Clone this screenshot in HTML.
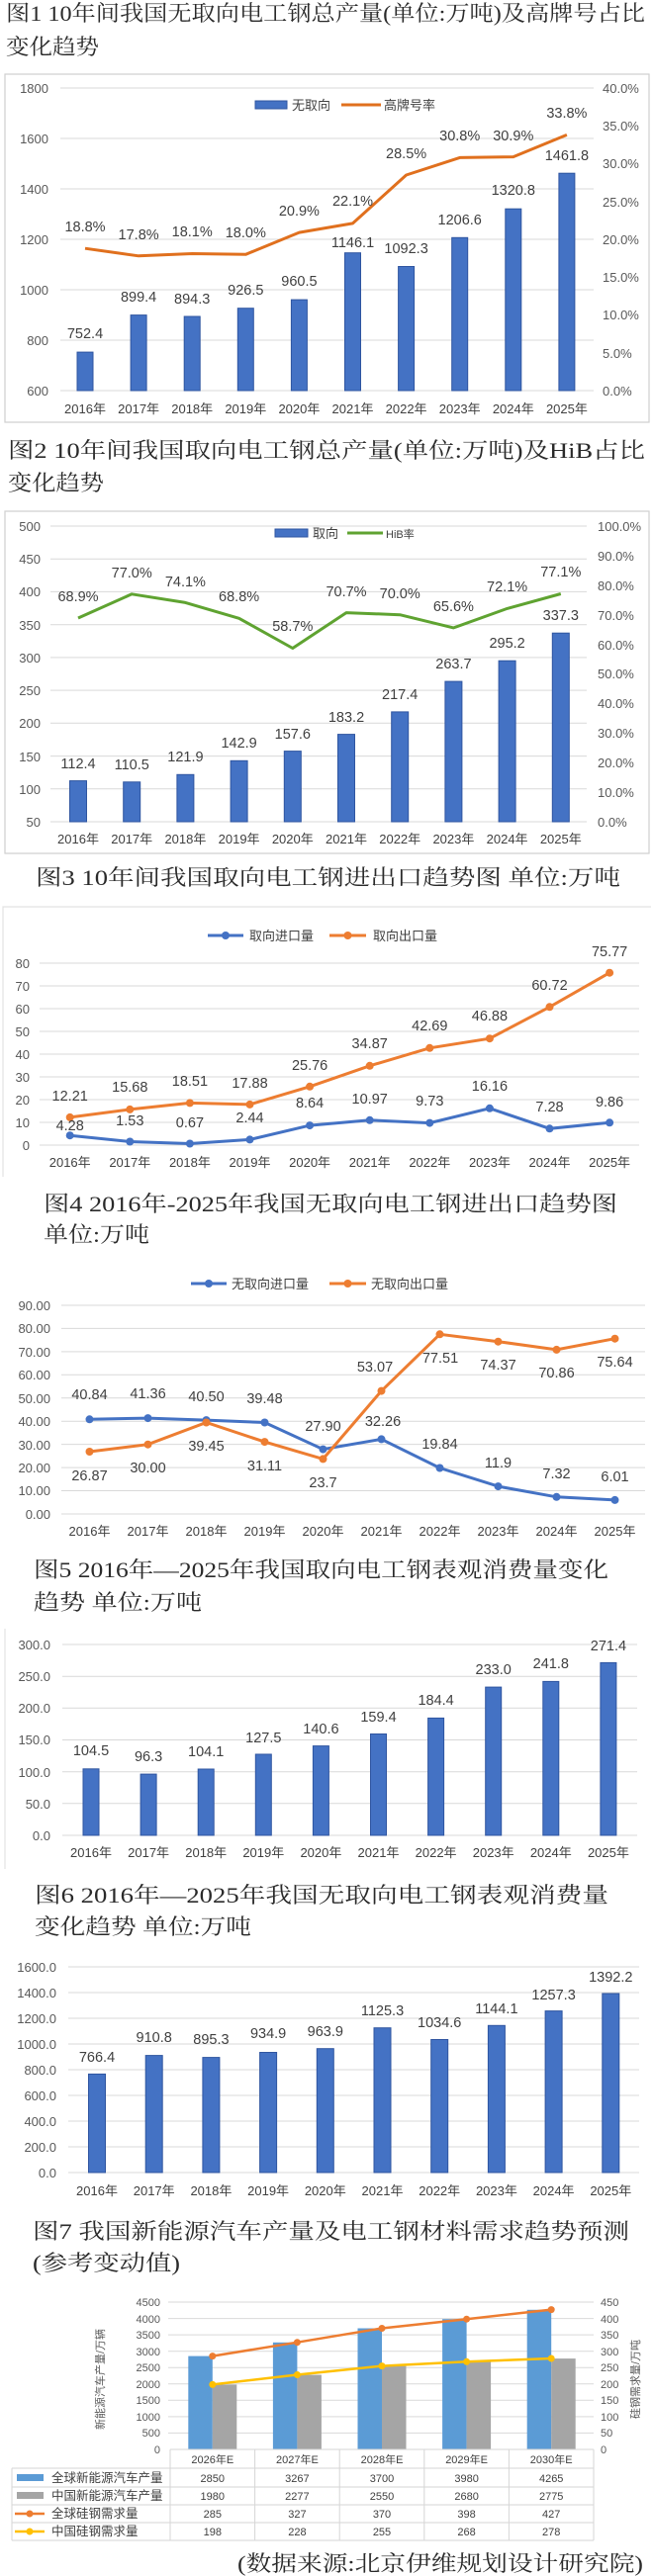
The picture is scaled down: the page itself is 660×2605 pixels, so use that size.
<!DOCTYPE html>
<html><head><meta charset="utf-8"><style>
html,body{margin:0;padding:0;background:#fff;}
svg{display:block;}
.t{font-family:"Liberation Serif","Noto Serif CJK SC",serif;font-size:22px;fill:#2a2a2a;}
.a{font-family:"Liberation Sans","Noto Sans CJK SC",sans-serif;font-size:13px;fill:#595959;}
.d{font-family:"Liberation Sans","Noto Sans CJK SC",sans-serif;font-size:14.5px;fill:#404040;text-anchor:middle;}
.x{font-family:"Liberation Sans","Noto Sans CJK SC",sans-serif;font-size:13px;fill:#404040;text-anchor:middle;}
.g{stroke:#d9d9d9;stroke-width:1;}
.b{fill:#4472c4;stroke:#2f55a0;stroke-width:1;}
.r{text-anchor:end;}
</style></head><body>
<svg width="660" height="2605" viewBox="0 0 660 2605" xmlns="http://www.w3.org/2000/svg">
<rect width="660" height="2605" fill="#fff"/>

<!-- ===== Titles ===== -->
<text class="t" x="6" y="21" textLength="646" lengthAdjust="spacingAndGlyphs">图1 10年间我国无取向电工钢总产量(单位:万吨)及高牌号占比</text>
<text class="t" x="6" y="55" textLength="94" lengthAdjust="spacingAndGlyphs">变化趋势</text>
<text class="t" x="8" y="463" textLength="644" lengthAdjust="spacingAndGlyphs">图2 10年间我国取向电工钢总产量(单位:万吨)及HiB占比</text>
<text class="t" x="8" y="496" textLength="97" lengthAdjust="spacingAndGlyphs">变化趋势</text>
<text class="t" x="36" y="895" textLength="591" lengthAdjust="spacingAndGlyphs">图3 10年间我国取向电工钢进出口趋势图 单位:万吨</text>
<text class="t" x="44" y="1225" textLength="580" lengthAdjust="spacingAndGlyphs">图4 2016年-2025年我国无取向电工钢进出口趋势图</text>
<text class="t" x="44" y="1256" textLength="107" lengthAdjust="spacingAndGlyphs">单位:万吨</text>
<text class="t" x="34" y="1595" textLength="581" lengthAdjust="spacingAndGlyphs">图5 2016年—2025年我国取向电工钢表观消费量变化</text>
<text class="t" x="34" y="1628" textLength="170" lengthAdjust="spacingAndGlyphs">趋势 单位:万吨</text>
<text class="t" x="35" y="1924" textLength="580" lengthAdjust="spacingAndGlyphs">图6 2016年—2025年我国无取向电工钢表观消费量</text>
<text class="t" x="35" y="1956" textLength="219" lengthAdjust="spacingAndGlyphs">变化趋势 单位:万吨</text>
<text class="t" x="33" y="2264" textLength="603" lengthAdjust="spacingAndGlyphs">图7 我国新能源汽车产量及电工钢材料需求趋势预测</text>
<text class="t" x="33" y="2296" textLength="149" lengthAdjust="spacingAndGlyphs">(参考变动值)</text>
<text class="t" x="240" y="2600" textLength="410" lengthAdjust="spacingAndGlyphs">(数据来源:北京伊维规划设计研究院)</text>

<!-- ===== Chart 1 ===== -->
<rect x="5" y="75" width="651" height="352" fill="none" stroke="#cfcfcf" stroke-width="1.2"/>
<g class="g">
<line x1="61" x2="600" y1="89" y2="89"/><line x1="61" x2="600" y1="140" y2="140"/><line x1="61" x2="600" y1="191" y2="191"/><line x1="61" x2="600" y1="242" y2="242"/><line x1="61" x2="600" y1="293" y2="293"/><line x1="61" x2="600" y1="344" y2="344"/><line x1="61" x2="600" y1="395" y2="395"/>
</g>
<g class="a r">
<text x="49" y="94">1800</text><text x="49" y="145">1600</text><text x="49" y="196">1400</text><text x="49" y="247">1200</text><text x="49" y="298">1000</text><text x="49" y="349">800</text><text x="49" y="400">600</text>
</g>
<g class="a">
<text x="609" y="94">40.0%</text><text x="609" y="132">35.0%</text><text x="609" y="170">30.0%</text><text x="609" y="209">25.0%</text><text x="609" y="247">20.0%</text><text x="609" y="285">15.0%</text><text x="609" y="323">10.0%</text><text x="609" y="362">5.0%</text><text x="609" y="400">0.0%</text>
</g>
<g class="b">
<rect x="78" y="356.1" width="16" height="38.9"/><rect x="132.1" y="318.6" width="16" height="76.4"/><rect x="186.2" y="320" width="16" height="75"/><rect x="240.3" y="311.7" width="16" height="83.3"/><rect x="294.4" y="303.1" width="16" height="91.9"/><rect x="348.5" y="255.7" width="16" height="139.3"/><rect x="402.6" y="269.5" width="16" height="125.5"/><rect x="456.7" y="240.3" width="16" height="154.7"/><rect x="510.8" y="211.2" width="16" height="183.8"/><rect x="564.9" y="175.2" width="16" height="219.8"/>
</g>
<polyline fill="none" stroke="#e0701e" stroke-width="3" stroke-linejoin="round" points="86,251.2 140.1,258.8 194.2,256.5 248.3,257.3 302.4,235.1 356.5,225.9 410.6,177 464.7,159.4 518.8,158.6 572.9,136.4"/>
<g class="d">
<text x="86" y="342">752.4</text><text x="140.1" y="305">899.4</text><text x="194.2" y="307">894.3</text><text x="248.3" y="298">926.5</text><text x="302.4" y="289">960.5</text><text x="356.5" y="250">1146.1</text><text x="410.6" y="256">1092.3</text><text x="464.7" y="227">1206.6</text><text x="518.8" y="197">1320.8</text><text x="572.9" y="162">1461.8</text>
<text x="86" y="234">18.8%</text><text x="140.1" y="242">17.8%</text><text x="194.2" y="239">18.1%</text><text x="248.3" y="240">18.0%</text><text x="302.4" y="218">20.9%</text><text x="356.5" y="208">22.1%</text><text x="410.6" y="160">28.5%</text><text x="464.7" y="142">30.8%</text><text x="518.8" y="142">30.9%</text><text x="572.9" y="119">33.8%</text>
</g>
<g class="x">
<text x="86" y="418">2016年</text><text x="140.1" y="418">2017年</text><text x="194.2" y="418">2018年</text><text x="248.3" y="418">2019年</text><text x="302.4" y="418">2020年</text><text x="356.5" y="418">2021年</text><text x="410.6" y="418">2022年</text><text x="464.7" y="418">2023年</text><text x="518.8" y="418">2024年</text><text x="572.9" y="418">2025年</text>
</g>
<rect x="258" y="102" width="32" height="8" class="b"/>
<text class="a" x="295" y="111" style="fill:#404040">无取向</text>
<line x1="345" x2="385" y1="106" y2="106" stroke="#e0701e" stroke-width="3"/>
<text class="a" x="388" y="111" style="fill:#404040">高牌号率</text>

<!-- ===== Chart 2 ===== -->
<rect x="5" y="517" width="651" height="346" fill="none" stroke="#cfcfcf" stroke-width="1.2"/>
<g class="g">
<line x1="51" x2="593" y1="532" y2="532"/><line x1="51" x2="593" y1="565.2" y2="565.2"/><line x1="51" x2="593" y1="598.4" y2="598.4"/><line x1="51" x2="593" y1="631.7" y2="631.7"/><line x1="51" x2="593" y1="664.9" y2="664.9"/><line x1="51" x2="593" y1="698.1" y2="698.1"/><line x1="51" x2="593" y1="731.3" y2="731.3"/><line x1="51" x2="593" y1="764.6" y2="764.6"/><line x1="51" x2="593" y1="797.8" y2="797.8"/><line x1="51" x2="593" y1="831" y2="831"/>
</g>
<g class="a r">
<text x="41" y="537">500</text><text x="41" y="570">450</text><text x="41" y="603">400</text><text x="41" y="637">350</text><text x="41" y="670">300</text><text x="41" y="703">250</text><text x="41" y="736">200</text><text x="41" y="770">150</text><text x="41" y="803">100</text><text x="41" y="836">50</text>
</g>
<g class="a">
<text x="604" y="537">100.0%</text><text x="604" y="567">90.0%</text><text x="604" y="597">80.0%</text><text x="604" y="627">70.0%</text><text x="604" y="657">60.0%</text><text x="604" y="686">50.0%</text><text x="604" y="716">40.0%</text><text x="604" y="746">30.0%</text><text x="604" y="776">20.0%</text><text x="604" y="806">10.0%</text><text x="604" y="836">0.0%</text>
</g>
<g class="b">
<rect x="70.5" y="789.6" width="17" height="41.4"/><rect x="124.7" y="790.8" width="17" height="40.2"/><rect x="178.9" y="783.3" width="17" height="47.7"/><rect x="233.1" y="769.3" width="17" height="61.7"/><rect x="287.3" y="759.6" width="17" height="71.4"/><rect x="341.5" y="742.6" width="17" height="88.4"/><rect x="395.7" y="719.9" width="17" height="111.1"/><rect x="449.9" y="689.1" width="17" height="141.9"/><rect x="504.1" y="668.2" width="17" height="162.8"/><rect x="558.3" y="640.2" width="17" height="190.8"/>
</g>
<polyline fill="none" stroke="#5fa331" stroke-width="3" stroke-linejoin="round" points="79,625 133.2,600.8 187.4,609.4 241.6,625.3 295.8,655.5 350,619.6 404.2,621.7 458.4,634.9 512.6,615.4 566.8,600.5"/>
<g class="d">
<text x="79" y="777">112.4</text><text x="133.2" y="778">110.5</text><text x="187.4" y="770">121.9</text><text x="241.6" y="756">142.9</text><text x="295.8" y="747">157.6</text><text x="350" y="730">183.2</text><text x="404.2" y="707">217.4</text><text x="458.4" y="676">263.7</text><text x="512.6" y="655">295.2</text><text x="566.8" y="627">337.3</text>
<text x="79" y="608">68.9%</text><text x="133.2" y="584">77.0%</text><text x="187.4" y="593">74.1%</text><text x="241.6" y="608">68.8%</text><text x="295.8" y="638">58.7%</text><text x="350" y="603">70.7%</text><text x="404.2" y="605">70.0%</text><text x="458.4" y="618">65.6%</text><text x="512.6" y="598">72.1%</text><text x="566.8" y="583">77.1%</text>
</g>
<g class="x">
<text x="79" y="853">2016年</text><text x="133.2" y="853">2017年</text><text x="187.4" y="853">2018年</text><text x="241.6" y="853">2019年</text><text x="295.8" y="853">2020年</text><text x="350" y="853">2021年</text><text x="404.2" y="853">2022年</text><text x="458.4" y="853">2023年</text><text x="512.6" y="853">2024年</text><text x="566.8" y="853">2025年</text>
</g>
<rect x="278" y="535" width="33" height="8" class="b"/>
<text class="a" x="316" y="544" style="fill:#404040">取向</text>
<line x1="351" x2="387" y1="539" y2="539" stroke="#5fa331" stroke-width="3"/>
<text class="a" x="390" y="544" style="fill:#404040;font-size:11px">HiB率</text>

<!-- ===== Chart 3 ===== -->
<path d="M3,1190 L3,917 L658,917" fill="none" stroke="#e2e2e2" stroke-width="1.2"/>
<g class="g">
<line x1="40" x2="646" y1="974" y2="974"/><line x1="40" x2="646" y1="997" y2="997"/><line x1="40" x2="646" y1="1020" y2="1020"/><line x1="40" x2="646" y1="1043" y2="1043"/><line x1="40" x2="646" y1="1066" y2="1066"/><line x1="40" x2="646" y1="1089" y2="1089"/><line x1="40" x2="646" y1="1112" y2="1112"/><line x1="40" x2="646" y1="1135" y2="1135"/><line x1="40" x2="646" y1="1158" y2="1158"/>
</g>
<g class="a r">
<text x="30" y="979">80</text><text x="30" y="1002">70</text><text x="30" y="1025">60</text><text x="30" y="1048">50</text><text x="30" y="1071">40</text><text x="30" y="1094">30</text><text x="30" y="1117">20</text><text x="30" y="1140">10</text><text x="30" y="1163">0</text>
</g>
<polyline fill="none" stroke="#ed7d31" stroke-width="3" points="70.7,1129.9 131.3,1121.9 191.9,1115.4 252.5,1116.9 313.1,1098.8 373.7,1077.8 434.3,1059.8 494.9,1050.2 555.5,1018.3 616.1,983.7"/>
<polyline fill="none" stroke="#4472c4" stroke-width="3" points="70.7,1148.2 131.3,1154.5 191.9,1156.5 252.5,1152.4 313.1,1138.1 373.7,1132.8 434.3,1135.6 494.9,1120.8 555.5,1141.3 616.1,1135.3"/>
<g fill="#ed7d31">
<circle cx="70.7" cy="1129.9" r="4"/><circle cx="131.3" cy="1121.9" r="4"/><circle cx="191.9" cy="1115.4" r="4"/><circle cx="252.5" cy="1116.9" r="4"/><circle cx="313.1" cy="1098.8" r="4"/><circle cx="373.7" cy="1077.8" r="4"/><circle cx="434.3" cy="1059.8" r="4"/><circle cx="494.9" cy="1050.2" r="4"/><circle cx="555.5" cy="1018.3" r="4"/><circle cx="616.1" cy="983.7" r="4"/>
</g>
<g fill="#4472c4">
<circle cx="70.7" cy="1148.2" r="4"/><circle cx="131.3" cy="1154.5" r="4"/><circle cx="191.9" cy="1156.5" r="4"/><circle cx="252.5" cy="1152.4" r="4"/><circle cx="313.1" cy="1138.1" r="4"/><circle cx="373.7" cy="1132.8" r="4"/><circle cx="434.3" cy="1135.6" r="4"/><circle cx="494.9" cy="1120.8" r="4"/><circle cx="555.5" cy="1141.3" r="4"/><circle cx="616.1" cy="1135.3" r="4"/>
</g>
<g class="d">
<text x="70.7" y="1113">12.21</text><text x="131.3" y="1104">15.68</text><text x="191.9" y="1098">18.51</text><text x="252.5" y="1100">17.88</text><text x="313.1" y="1082">25.76</text><text x="373.7" y="1060">34.87</text><text x="434.3" y="1042">42.69</text><text x="494.9" y="1032">46.88</text><text x="555.5" y="1001">60.72</text><text x="616.1" y="967">75.77</text>
<text x="70.7" y="1143">4.28</text><text x="131.3" y="1138">1.53</text><text x="191.9" y="1140">0.67</text><text x="252.5" y="1135">2.44</text><text x="313.1" y="1120">8.64</text><text x="373.7" y="1116">10.97</text><text x="434.3" y="1118">9.73</text><text x="494.9" y="1103">16.16</text><text x="555.5" y="1124">7.28</text><text x="616.1" y="1119">9.86</text>
</g>
<g class="x">
<text x="70.7" y="1180">2016年</text><text x="131.3" y="1180">2017年</text><text x="191.9" y="1180">2018年</text><text x="252.5" y="1180">2019年</text><text x="313.1" y="1180">2020年</text><text x="373.7" y="1180">2021年</text><text x="434.3" y="1180">2022年</text><text x="494.9" y="1180">2023年</text><text x="555.5" y="1180">2024年</text><text x="616.1" y="1180">2025年</text>
</g>
<line x1="210" x2="246" y1="946" y2="946" stroke="#4472c4" stroke-width="3"/><circle cx="228" cy="946" r="4" fill="#4472c4"/>
<text class="a" x="252" y="951" style="fill:#404040">取向进口量</text>
<line x1="333" x2="370" y1="946" y2="946" stroke="#ed7d31" stroke-width="3"/><circle cx="351.5" cy="946" r="4" fill="#ed7d31"/>
<text class="a" x="377" y="951" style="fill:#404040">取向出口量</text>

<!-- ===== Chart 4 ===== -->
<g class="g">
<line x1="62" x2="652" y1="1320" y2="1320"/><line x1="62" x2="652" y1="1343.4" y2="1343.4"/><line x1="62" x2="652" y1="1366.9" y2="1366.9"/><line x1="62" x2="652" y1="1390.3" y2="1390.3"/><line x1="62" x2="652" y1="1413.8" y2="1413.8"/><line x1="62" x2="652" y1="1437.2" y2="1437.2"/><line x1="62" x2="652" y1="1460.6" y2="1460.6"/><line x1="62" x2="652" y1="1484.1" y2="1484.1"/><line x1="62" x2="652" y1="1507.5" y2="1507.5"/><line x1="62" x2="652" y1="1531" y2="1531"/>
</g>
<g class="a r">
<text x="51" y="1325">90.00</text><text x="51" y="1348">80.00</text><text x="51" y="1372">70.00</text><text x="51" y="1395">60.00</text><text x="51" y="1419">50.00</text><text x="51" y="1442">40.00</text><text x="51" y="1466">30.00</text><text x="51" y="1489">20.00</text><text x="51" y="1512">10.00</text><text x="51" y="1536">0.00</text>
</g>
<polyline fill="none" stroke="#4472c4" stroke-width="3" points="90.5,1435.3 149.5,1434.1 208.5,1436.1 267.5,1438.5 326.5,1465.6 385.5,1455.4 444.5,1484.5 503.5,1503.1 562.5,1513.8 621.5,1516.9"/>
<polyline fill="none" stroke="#ed7d31" stroke-width="3" points="90.5,1468 149.5,1460.7 208.5,1438.5 267.5,1458.1 326.5,1475.4 385.5,1406.6 444.5,1349.3 503.5,1356.7 562.5,1364.9 621.5,1353.7"/>
<g fill="#4472c4">
<circle cx="90.5" cy="1435.3" r="4"/><circle cx="149.5" cy="1434.1" r="4"/><circle cx="208.5" cy="1436.1" r="4"/><circle cx="267.5" cy="1438.5" r="4"/><circle cx="326.5" cy="1465.6" r="4"/><circle cx="385.5" cy="1455.4" r="4"/><circle cx="444.5" cy="1484.5" r="4"/><circle cx="503.5" cy="1503.1" r="4"/><circle cx="562.5" cy="1513.8" r="4"/><circle cx="621.5" cy="1516.9" r="4"/>
</g>
<g fill="#ed7d31">
<circle cx="90.5" cy="1468" r="4"/><circle cx="149.5" cy="1460.7" r="4"/><circle cx="208.5" cy="1438.5" r="4"/><circle cx="267.5" cy="1458.1" r="4"/><circle cx="326.5" cy="1475.4" r="4"/><circle cx="385.5" cy="1406.6" r="4"/><circle cx="444.5" cy="1349.3" r="4"/><circle cx="503.5" cy="1356.7" r="4"/><circle cx="562.5" cy="1364.9" r="4"/><circle cx="621.5" cy="1353.7" r="4"/>
</g>
<g class="d">
<text x="90.5" y="1415">40.84</text><text x="149.5" y="1414">41.36</text><text x="208.5" y="1417">40.50</text><text x="267.5" y="1419">39.48</text><text x="326.5" y="1447">27.90</text><text x="387" y="1442">32.26</text><text x="444.5" y="1465">19.84</text><text x="503.5" y="1484">11.9</text><text x="562.5" y="1495">7.32</text><text x="621.5" y="1498">6.01</text>
<text x="90.5" y="1497">26.87</text><text x="149.5" y="1489">30.00</text><text x="208.5" y="1467">39.45</text><text x="267.5" y="1487">31.11</text><text x="326.5" y="1504">23.7</text><text x="379" y="1387">53.07</text><text x="445" y="1378">77.51</text><text x="503.5" y="1385">74.37</text><text x="562.5" y="1393">70.86</text><text x="621.5" y="1382">75.64</text>
</g>
<g class="x">
<text x="90.5" y="1553">2016年</text><text x="149.5" y="1553">2017年</text><text x="208.5" y="1553">2018年</text><text x="267.5" y="1553">2019年</text><text x="326.5" y="1553">2020年</text><text x="385.5" y="1553">2021年</text><text x="444.5" y="1553">2022年</text><text x="503.5" y="1553">2023年</text><text x="562.5" y="1553">2024年</text><text x="621.5" y="1553">2025年</text>
</g>
<line x1="193" x2="229" y1="1298" y2="1298" stroke="#4472c4" stroke-width="3"/><circle cx="211" cy="1298" r="4" fill="#4472c4"/>
<text class="a" x="234" y="1303" style="fill:#404040">无取向进口量</text>
<line x1="333" x2="370" y1="1298" y2="1298" stroke="#ed7d31" stroke-width="3"/><circle cx="351.5" cy="1298" r="4" fill="#ed7d31"/>
<text class="a" x="375" y="1303" style="fill:#404040">无取向出口量</text>

<!-- ===== Chart 5 ===== -->
<line x1="5" x2="5" y1="1647" y2="1890" stroke="#e2e2e2" stroke-width="1.2"/>
<g class="g">
<line x1="63" x2="644" y1="1663" y2="1663"/><line x1="63" x2="644" y1="1695.2" y2="1695.2"/><line x1="63" x2="644" y1="1727.3" y2="1727.3"/><line x1="63" x2="644" y1="1759.5" y2="1759.5"/><line x1="63" x2="644" y1="1791.7" y2="1791.7"/><line x1="63" x2="644" y1="1823.8" y2="1823.8"/><line x1="63" x2="644" y1="1856" y2="1856"/>
</g>
<g class="a r">
<text x="51" y="1668">300.0</text><text x="51" y="1700">250.0</text><text x="51" y="1732">200.0</text><text x="51" y="1764">150.0</text><text x="51" y="1797">100.0</text><text x="51" y="1829">50.0</text><text x="51" y="1861">0.0</text>
</g>
<g class="b">
<rect x="84" y="1788.8" width="16" height="67.2"/><rect x="142.1" y="1794.1" width="16" height="61.9"/><rect x="200.2" y="1789" width="16" height="67"/><rect x="258.3" y="1774" width="16" height="82"/><rect x="316.4" y="1765.6" width="16" height="90.4"/><rect x="374.5" y="1753.5" width="16" height="102.5"/><rect x="432.6" y="1737.4" width="16" height="118.6"/><rect x="490.7" y="1706.1" width="16" height="149.9"/><rect x="548.8" y="1700.4" width="16" height="155.6"/><rect x="606.9" y="1681.4" width="16" height="174.6"/>
</g>
<g class="d">
<text x="92" y="1775">104.5</text><text x="150.1" y="1781">96.3</text><text x="208.2" y="1776">104.1</text><text x="266.3" y="1762">127.5</text><text x="324.4" y="1753">140.6</text><text x="382.5" y="1741">159.4</text><text x="440.6" y="1724">184.4</text><text x="498.7" y="1693">233.0</text><text x="556.8" y="1687">241.8</text><text x="614.9" y="1669">271.4</text>
</g>
<g class="x">
<text x="92" y="1878">2016年</text><text x="150.1" y="1878">2017年</text><text x="208.2" y="1878">2018年</text><text x="266.3" y="1878">2019年</text><text x="324.4" y="1878">2020年</text><text x="382.5" y="1878">2021年</text><text x="440.6" y="1878">2022年</text><text x="498.7" y="1878">2023年</text><text x="556.8" y="1878">2024年</text><text x="614.9" y="1878">2025年</text>
</g>

<!-- ===== Chart 6 ===== -->
<g class="g">
<line x1="69" x2="646" y1="1989" y2="1989"/><line x1="69" x2="646" y1="2015" y2="2015"/><line x1="69" x2="646" y1="2041" y2="2041"/><line x1="69" x2="646" y1="2067" y2="2067"/><line x1="69" x2="646" y1="2093" y2="2093"/><line x1="69" x2="646" y1="2119" y2="2119"/><line x1="69" x2="646" y1="2145" y2="2145"/><line x1="69" x2="646" y1="2171" y2="2171"/><line x1="69" x2="646" y1="2197" y2="2197"/>
</g>
<g class="a r">
<text x="57" y="1994">1600.0</text><text x="57" y="2020">1400.0</text><text x="57" y="2046">1200.0</text><text x="57" y="2072">1000.0</text><text x="57" y="2098">800.0</text><text x="57" y="2124">600.0</text><text x="57" y="2150">400.0</text><text x="57" y="2176">200.0</text><text x="57" y="2202">0.0</text>
</g>
<g class="b">
<rect x="89.5" y="2097.4" width="17" height="99.6"/><rect x="147.2" y="2078.6" width="17" height="118.4"/><rect x="204.9" y="2080.6" width="17" height="116.4"/><rect x="262.6" y="2075.5" width="17" height="121.5"/><rect x="320.3" y="2071.7" width="17" height="125.3"/><rect x="378" y="2050.7" width="17" height="146.3"/><rect x="435.7" y="2062.5" width="17" height="134.5"/><rect x="493.4" y="2048.3" width="17" height="148.7"/><rect x="551.1" y="2033.6" width="17" height="163.4"/><rect x="608.8" y="2016" width="17" height="181"/>
</g>
<g class="d">
<text x="98" y="2085">766.4</text><text x="155.7" y="2065">910.8</text><text x="213.4" y="2067">895.3</text><text x="271.1" y="2061">934.9</text><text x="328.8" y="2059">963.9</text><text x="386.5" y="2038">1125.3</text><text x="444.2" y="2050">1034.6</text><text x="501.9" y="2036">1144.1</text><text x="559.6" y="2022">1257.3</text><text x="617.3" y="2004">1392.2</text>
</g>
<g class="x">
<text x="98" y="2220">2016年</text><text x="155.7" y="2220">2017年</text><text x="213.4" y="2220">2018年</text><text x="271.1" y="2220">2019年</text><text x="328.8" y="2220">2020年</text><text x="386.5" y="2220">2021年</text><text x="444.2" y="2220">2022年</text><text x="501.9" y="2220">2023年</text><text x="559.6" y="2220">2024年</text><text x="617.3" y="2220">2025年</text>
</g>

<!-- ===== Chart 7 ===== -->
<g class="g">
<line x1="170" x2="600" y1="2328" y2="2328"/><line x1="170" x2="600" y1="2344.6" y2="2344.6"/><line x1="170" x2="600" y1="2361.1" y2="2361.1"/><line x1="170" x2="600" y1="2377.7" y2="2377.7"/><line x1="170" x2="600" y1="2394.2" y2="2394.2"/><line x1="170" x2="600" y1="2410.8" y2="2410.8"/><line x1="170" x2="600" y1="2427.3" y2="2427.3"/><line x1="170" x2="600" y1="2443.9" y2="2443.9"/><line x1="170" x2="600" y1="2460.4" y2="2460.4"/>
</g>
<g class="a r" style="font-size:11px">
<text x="162" y="2332">4500</text><text x="162" y="2349">4000</text><text x="162" y="2365">3500</text><text x="162" y="2382">3000</text><text x="162" y="2398">2500</text><text x="162" y="2415">2000</text><text x="162" y="2431">1500</text><text x="162" y="2448">1000</text><text x="162" y="2464">500</text><text x="162" y="2481">0</text>
</g>
<g class="a" style="font-size:11px">
<text x="607" y="2332">450</text><text x="607" y="2349">400</text><text x="607" y="2365">350</text><text x="607" y="2382">300</text><text x="607" y="2398">250</text><text x="607" y="2415">200</text><text x="607" y="2431">150</text><text x="607" y="2448">100</text><text x="607" y="2464">50</text><text x="607" y="2481">0</text>
</g>
<text class="a" transform="translate(105,2406) rotate(-90)" text-anchor="middle" style="font-size:11px">新能源汽车产量/万辆</text>
<text class="a" transform="translate(646,2406) rotate(-90)" text-anchor="middle" style="font-size:11px">硅钢需求量/万吨</text>
<g fill="#5b9bd5">
<rect x="190.3" y="2382.6" width="24.5" height="94.4"/><rect x="275.9" y="2368.8" width="24.5" height="108.2"/><rect x="361.5" y="2354.5" width="24.5" height="122.5"/><rect x="447.1" y="2345.2" width="24.5" height="131.8"/><rect x="532.7" y="2335.8" width="24.5" height="141.2"/>
</g>
<g fill="#a5a5a5">
<rect x="214.8" y="2411.4" width="24.5" height="65.6"/><rect x="300.4" y="2401.6" width="24.5" height="75.4"/><rect x="386" y="2392.6" width="24.5" height="84.4"/><rect x="471.6" y="2388.3" width="24.5" height="88.7"/><rect x="557.2" y="2385.1" width="24.5" height="91.9"/>
</g>
<polyline fill="none" stroke="#ed7d31" stroke-width="2.5" points="214.8,2382.6 300.4,2368.7 386,2354.5 471.6,2345.2 557.2,2335.6"/>
<polyline fill="none" stroke="#ffc000" stroke-width="2.5" points="214.8,2411.4 300.4,2401.5 386,2392.6 471.6,2388.3 557.2,2385"/>
<g fill="#ed7d31"><circle cx="214.8" cy="2382.6" r="3.5"/><circle cx="300.4" cy="2368.7" r="3.5"/><circle cx="386" cy="2354.5" r="3.5"/><circle cx="471.6" cy="2345.2" r="3.5"/><circle cx="557.2" cy="2335.6" r="3.5"/></g>
<g fill="#ffc000"><circle cx="214.8" cy="2411.4" r="3.5"/><circle cx="300.4" cy="2401.5" r="3.5"/><circle cx="386" cy="2392.6" r="3.5"/><circle cx="471.6" cy="2388.3" r="3.5"/><circle cx="557.2" cy="2385" r="3.5"/></g>
<!-- table -->
<g stroke="#d6d6d6" stroke-width="1" fill="none">
<line x1="172" x2="600" y1="2477" y2="2477"/>
<line x1="12" x2="600" y1="2496" y2="2496"/><line x1="12" x2="600" y1="2515" y2="2515"/><line x1="12" x2="600" y1="2533" y2="2533"/><line x1="12" x2="600" y1="2551" y2="2551"/><line x1="12" x2="600" y1="2569" y2="2569"/>
<line x1="12" x2="12" y1="2496" y2="2569"/><line x1="172" x2="172" y1="2477" y2="2569"/><line x1="257.6" x2="257.6" y1="2477" y2="2569"/><line x1="343.2" x2="343.2" y1="2477" y2="2569"/><line x1="428.8" x2="428.8" y1="2477" y2="2569"/><line x1="514.4" x2="514.4" y1="2477" y2="2569"/><line x1="600" x2="600" y1="2477" y2="2569"/>
</g>
<g class="x" style="font-size:11px">
<text x="214.8" y="2491">2026年E</text><text x="300.4" y="2491">2027年E</text><text x="386" y="2491">2028年E</text><text x="471.6" y="2491">2029年E</text><text x="557.2" y="2491">2030年E</text>
<text x="214.8" y="2510">2850</text><text x="300.4" y="2510">3267</text><text x="386" y="2510">3700</text><text x="471.6" y="2510">3980</text><text x="557.2" y="2510">4265</text>
<text x="214.8" y="2528">1980</text><text x="300.4" y="2528">2277</text><text x="386" y="2528">2550</text><text x="471.6" y="2528">2680</text><text x="557.2" y="2528">2775</text>
<text x="214.8" y="2546">285</text><text x="300.4" y="2546">327</text><text x="386" y="2546">370</text><text x="471.6" y="2546">398</text><text x="557.2" y="2546">427</text>
<text x="214.8" y="2564">198</text><text x="300.4" y="2564">228</text><text x="386" y="2564">255</text><text x="471.6" y="2564">268</text><text x="557.2" y="2564">278</text>
</g>
<rect x="17" y="2502" width="27" height="7" fill="#5b9bd5"/>
<rect x="17" y="2520" width="27" height="7" fill="#a5a5a5"/>
<line x1="15" x2="45" y1="2542" y2="2542" stroke="#ed7d31" stroke-width="2.5"/><circle cx="30" cy="2542" r="3.5" fill="#ed7d31"/>
<line x1="15" x2="45" y1="2560" y2="2560" stroke="#ffc000" stroke-width="2.5"/><circle cx="30" cy="2560" r="3.5" fill="#ffc000"/>
<g class="a" style="font-size:12.5px;fill:#404040">
<text x="52" y="2510">全球新能源汽车产量</text><text x="52" y="2528">中国新能源汽车产量</text><text x="52" y="2546">全球硅钢需求量</text><text x="52" y="2564">中国硅钢需求量</text>
</g>
</svg>
</body></html>
